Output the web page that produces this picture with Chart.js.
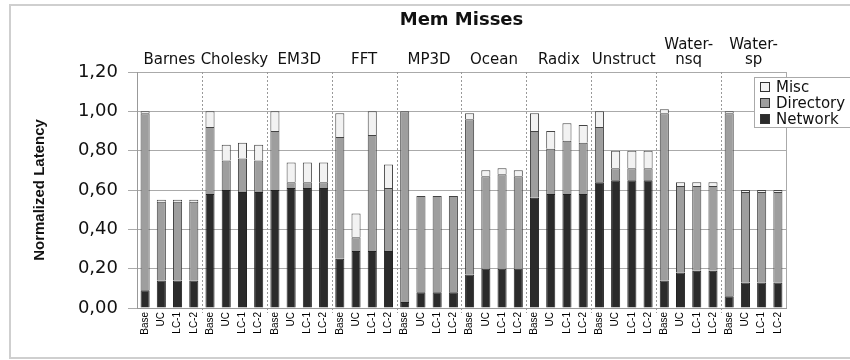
<!DOCTYPE html>
<html>
<head>
<meta charset="utf-8">
<script src="https://cdn.jsdelivr.net/npm/chart.js@4.4.0/dist/chart.umd.min.js"></script>
<style>
  body { margin: 0; background: #fff; }
  #wrap { width: 850px; height: 360px; }
</style>
</head>
<body>
<div id="wrap"><canvas id="myChart" width="850" height="360"></canvas></div>
<script>
const grupos = ['Barnes', 'Cholesky', 'EM3D', 'FFT', 'MP3D', 'Ocean', 'Radix', 'Unstruct', 'Water-\nnsq', 'Water-\nsp'];
const variantes = ['Base', 'UC', 'LC-1', 'LC-2'];

const network = [
  0.09, 0.14, 0.14, 0.14,
  0.58, 0.60, 0.59, 0.59,
  0.60, 0.61, 0.61, 0.61,
  0.25, 0.29, 0.29, 0.29,
  0.03, 0.08, 0.08, 0.08,
  0.17, 0.20, 0.20, 0.20,
  0.56, 0.58, 0.58, 0.58,
  0.64, 0.65, 0.65, 0.65,
  0.14, 0.18, 0.19, 0.19,
  0.06, 0.13, 0.13, 0.13
];
const directory = [
  0.90, 0.40, 0.40, 0.40,
  0.34, 0.15, 0.17, 0.16,
  0.30, 0.03, 0.03, 0.03,
  0.62, 0.07, 0.59, 0.32,
  0.97, 0.49, 0.49, 0.49,
  0.79, 0.47, 0.48, 0.47,
  0.34, 0.23, 0.27, 0.26,
  0.28, 0.06, 0.06, 0.06,
  0.85, 0.44, 0.43, 0.43,
  0.93, 0.46, 0.46, 0.46
];
const misc = [
  0.01, 0.01, 0.01, 0.01,
  0.08, 0.08, 0.08, 0.08,
  0.10, 0.10, 0.10, 0.10,
  0.12, 0.12, 0.12, 0.12,
  0.00, 0.00, 0.00, 0.00,
  0.03, 0.03, 0.03, 0.03,
  0.09, 0.09, 0.09, 0.09,
  0.08, 0.09, 0.09, 0.09,
  0.02, 0.02, 0.02, 0.02,
  0.01, 0.01, 0.01, 0.01
];

const etiquetas = [];
grupos.forEach(() => variantes.forEach(v => etiquetas.push(v)));

// marco, separadores, nombres de grupo, titulo y leyenda
const decoracion = {
  id: 'decoracion',
  beforeDraw(chart) {
    const c = chart.ctx;
    c.save();
    c.strokeStyle = '#cfcfcf';
    c.lineWidth = 2;
    c.strokeRect(10, 5, 850, 353);
    c.restore();
  },
  beforeDatasetsDraw(chart) {
    const c = chart.ctx;
    const x = chart.scales.x;
    const a = chart.chartArea;
    const paso = x.getPixelForValue(1) - x.getPixelForValue(0);
    c.save();
    c.strokeStyle = '#999';
    c.lineWidth = 1;
    c.setLineDash([2, 2]);
    for (let g = 1; g < grupos.length; g++) {
      const px = Math.round(x.getPixelForValue(g * 4) - paso / 2) + 0.5;
      c.beginPath();
      c.moveTo(px, a.top);
      c.lineTo(px, a.bottom + 5);
      c.stroke();
    }
    c.setLineDash([]);
    c.strokeStyle = '#aaa';
    c.beginPath();
    c.moveTo(Math.round(a.right) + 0.5, a.top);
    c.lineTo(Math.round(a.right) + 0.5, a.bottom);
    c.stroke();
    c.restore();
  },
  afterDraw(chart) {
    const c = chart.ctx;
    const x = chart.scales.x;
    const a = chart.chartArea;
    c.save();
    c.fillStyle = '#111';
    c.textAlign = 'center';
    c.textBaseline = 'middle';
    c.font = 'bold 18px "DejaVu Sans"';
    c.fillText('Mem Misses', (a.left + a.right) / 2, 20);

    c.font = '15px "DejaVu Sans"';
    grupos.forEach((g, i) => {
      const cx = (x.getPixelForValue(i * 4) + x.getPixelForValue(i * 4 + 3)) / 2;
      const lineas = g.split('\n');
      lineas.forEach((l, j) => {
        c.fillText(l, cx, 60 - (lineas.length - 1 - j) * 15);
      });
    });

    // leyenda
    c.fillStyle = '#fff';
    c.strokeStyle = '#aaa';
    c.lineWidth = 1;
    c.fillRect(754.5, 77.5, 100, 50);
    c.strokeRect(754.5, 77.5, 100, 50);
    c.font = '15px "DejaVu Sans"';
    c.textAlign = 'left';
    const ds = chart.data.datasets.slice().reverse();
    ds.forEach((d, i) => {
      const cy = 87 + i * 16;
      c.fillStyle = d.backgroundColor;
      c.fillRect(760.5, cy - 4.5, 9, 9);
      c.strokeStyle = '#333';
      c.strokeRect(760.5, cy - 4.5, 9, 9);
      c.fillStyle = '#111';
      c.fillText(d.label, 776, cy + 1);
    });
    c.restore();
  }
};

const ctx = document.getElementById('myChart').getContext('2d');

const myChart = new Chart(ctx, {
  type: 'bar',
  data: {
    labels: etiquetas,
    datasets: [
      { label: 'Network', data: network, backgroundColor: '#2b2b2b', borderColor: '#222', borderWidth: 1 },
      { label: 'Directory', data: directory, backgroundColor: '#9e9e9e', borderColor: '#444', borderWidth: 1 },
      { label: 'Misc', data: misc, backgroundColor: '#f2f2f2', borderColor: '#444', borderWidth: 1 }
    ]
  },
  options: {
    responsive: false,
    animation: false,
    layout: { padding: { top: 72, left: 10, right: 64, bottom: 8 } },
    datasets: { bar: { barPercentage: 0.56, categoryPercentage: 1 } },
    plugins: {
      legend: { display: false },
      title: { display: false },
      tooltip: { enabled: false }
    },
    scales: {
      x: {
        stacked: true,
        grid: { display: false, drawTicks: false },
        border: { display: true, color: '#999' },
        ticks: {
          autoSkip: false,
          minRotation: 90,
          maxRotation: 90,
          padding: 4,
          color: '#000',
          font: { family: '"Liberation Sans", sans-serif', size: 10 }
        },
        afterFit(scale) { scale.height = 44; }
      },
      y: {
        stacked: true,
        min: 0,
        max: 1.2,
        grid: { color: '#aaa', tickLength: 9 },
        border: { color: '#999' },
        ticks: {
          stepSize: 0.2,
          padding: 10,
          color: '#111',
          font: { family: '"DejaVu Sans"', size: 18 },
          callback: v => v.toFixed(2).replace('.', ',')
        },
        title: {
          display: true,
          text: 'Normalized Latency',
          color: '#111',
          padding: { top: 21, bottom: 0 },
          font: { family: '"Liberation Sans", sans-serif', size: 15, weight: 'bold' }
        },
        afterFit(scale) { scale.width = 127; }
      }
    }
  },
  plugins: [decoracion]
});
</script>
</body>
</html>
